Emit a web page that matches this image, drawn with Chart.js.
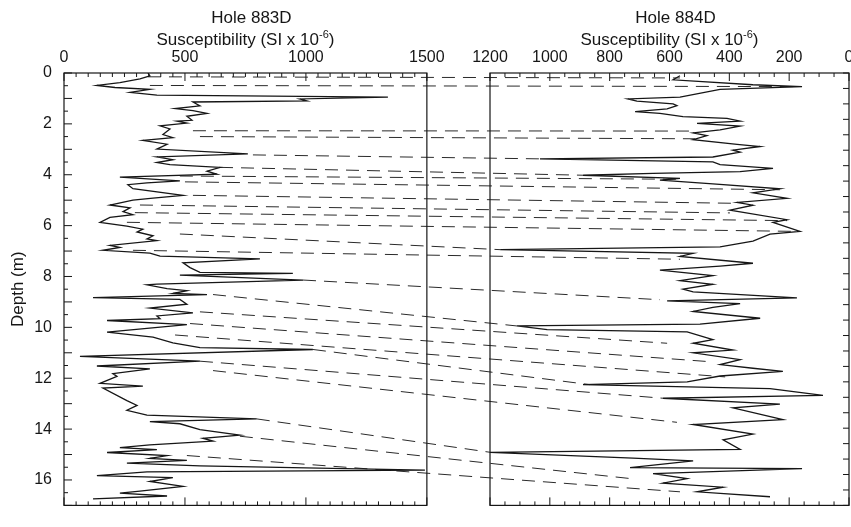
<!DOCTYPE html>
<html>
<head>
<meta charset="utf-8">
<script src="https://cdn.jsdelivr.net/npm/chart.js@4.4.1/dist/chart.umd.min.js"></script>
<style>
html, body { margin: 0; padding: 0; background: #fff; }
#wrap { width: 851px; height: 527px; position: relative; }
</style>
</head>
<body>
<div id="wrap"><canvas id="logChart"></canvas></div>
<script>
// Hole 883D: depth (m) and susceptibility (SI x 10^-6)
const depth883 = [0.00, 0.11, 0.23, 0.38, 0.49, 0.57, 0.64, 0.76, 0.87, 0.95, 1.02, 1.10, 1.14, 1.29, 1.40, 1.48, 1.59, 1.70, 1.86, 1.89, 1.97,
  2.08, 2.20, 2.42, 2.54, 2.65, 2.80, 2.99, 3.18, 3.30, 3.41, 3.52, 3.60, 3.71, 3.86, 3.98, 4.09, 4.24, 4.32, 4.39, 4.55, 4.81, 4.92, 5.00,
  5.19, 5.30, 5.45, 5.57, 5.68, 5.87, 6.02, 6.14, 6.25, 6.40, 6.52, 6.59, 6.78, 6.86, 6.97, 7.08, 7.20, 7.31, 7.46, 7.65, 7.84, 7.88, 7.95,
  8.14, 8.30, 8.33, 8.48, 8.56, 8.67, 8.71, 8.83, 8.90, 9.09, 9.24, 9.43, 9.55, 9.66, 9.73, 9.89, 10.19, 10.38, 10.61, 10.80, 10.87, 11.14,
  11.33, 11.52, 11.63, 11.82, 11.93, 12.20, 12.31, 12.39, 12.88, 13.07, 13.26, 13.45, 13.60, 13.71, 13.79, 14.02, 14.24, 14.36, 14.47, 14.62,
  14.73, 14.81, 14.92, 15.04, 15.15, 15.23, 15.34, 15.45, 15.61, 15.68, 15.83, 15.91, 16.06, 16.25, 16.44, 16.52, 16.63, 16.74];
const sus883 = [347, 355, 314, 231, 136, 211, 355, 273, 384, 1339, 975, 1004, 533, 562, 459, 533, 591, 508, 529, 467, 508,
  397, 438, 409, 450, 326, 426, 384, 760, 384, 450, 384, 438, 645, 591, 632, 231, 479, 343, 264, 285, 492, 368, 285,
  190, 273, 244, 285, 190, 149, 260, 326, 302, 368, 343, 384, 190, 231, 161, 355, 397, 810, 492, 521, 562, 946, 479,
  988, 384, 343, 426, 508, 450, 591, 120, 479, 508, 355, 533, 384, 397, 178, 508, 178, 368, 450, 562, 1029, 66,
  562, 136, 355, 202, 219, 149, 326, 161, 260, 302, 260, 343, 797, 355, 479, 562, 727, 574, 616, 355,
  231, 384, 178, 426, 355, 508, 260, 562, 1492, 343, 136, 450, 355, 492, 314, 231, 426, 120];

// Hole 884D: depth (m) and susceptibility (SI x 10^-6)
const depth884 = [0.09, 0.22, 0.38, 0.44, 0.53, 0.78, 0.84, 0.91, 1.00, 1.06, 1.16, 1.25, 1.31, 1.41, 1.47, 1.56, 1.63, 1.72, 1.84, 1.94,
  2.03, 2.16, 2.31, 2.38, 2.50, 2.56, 2.72, 2.78, 2.88, 2.97, 3.09, 3.19, 3.25, 3.31, 3.41, 3.47, 3.59, 3.75, 3.88, 4.06, 4.19, 4.28, 4.44,
  4.75, 4.84, 5.13, 5.22, 5.44, 5.63, 5.72, 5.84, 5.94, 6.16, 6.25, 6.38, 6.56, 6.72, 6.84, 7.00, 7.09, 7.28, 7.38, 7.47, 7.59, 7.72, 7.94,
  8.13, 8.19, 8.31, 8.38, 8.63, 8.75, 8.97, 9.06, 9.28, 9.44, 9.56, 9.66, 9.81, 10.00, 10.09, 10.22, 10.44, 10.53, 10.72, 10.84, 11.22,
  11.38, 11.69, 11.88, 12.19, 12.28, 12.47, 12.56, 12.78, 12.81, 12.97, 13.13, 13.28, 13.41, 13.56, 13.72];
const sus884 = [565, 588, 321, 157, 431, 565, 739, 709, 588, 575, 608, 715, 632, 555, 408, 364, 508, 364, 431, 521,
  475, 521, 374, 297, 388, 364, 455, 1033, 455, 431, 254, 364, 655, 889, 565, 632, 455, 231, 321, 207, 374, 321, 398,
  207, 254, 164, 264, 321, 431, 1166, 521, 565, 321, 431, 632, 455, 565, 455, 555, 521, 174, 608, 364, 455, 521, 297,
  498, 1110, 1009, 541, 455, 521, 388, 521, 364, 431, 321, 221, 431, 541, 889, 264, 87, 622, 231, 388, 221,
  521, 321, 421, 364, 1200, 722, 521, 732, 157, 655, 541, 622, 421, 508, 264];

// correlation ties between the two holes
const tieSus883 = [347, 355, 533, 562, 781, 645, 479, 500, 533, 314, 293, 260, 479, 285, 988, 616, 562, 521, 459, 1029, 562, 616, 797, 727, 508];
const tieDepth883 = [0.15, 0.49, 2.27, 2.50, 3.22, 3.71, 4.05, 4.28, 4.81, 5.19, 5.49, 5.87, 6.33, 6.97, 8.14, 8.71, 9.39, 9.85, 10.30, 10.87, 11.33, 11.70, 13.60, 14.28, 15.04];
const tieSus884 = [565, 180, 531, 515, 1033, 889, 565, 231, 374, 398, 207, 164, 1166, 565, 632, 1110, 608, 475, 414, 866, 622, 575, 1200, 732, 565];
const tieDepth884 = [0.16, 0.44, 1.88, 2.13, 2.78, 3.31, 3.44, 3.78, 4.22, 4.53, 4.78, 5.13, 5.72, 6.03, 7.34, 8.19, 8.75, 9.34, 9.84, 10.09, 10.53, 11.31, 12.28, 13.13, 13.56];

const ticks883 = [0, 500, 1000, 1500];
const ticks884 = [1200, 1000, 800, 600, 400, 200, 0];
const depthTicks = [0, 2, 4, 6, 8, 10, 12, 14, 16];

const ink = '#161616';
const fontFamily = "'Liberation Sans', Arial, sans-serif";

function toPoints(xs, ys) {
  return xs.map((x, i) => ({ x: x, y: ys[i] }));
}

function setTicks(values) {
  return scale => { scale.ticks = values.map(v => ({ value: v })); };
}

// top axes share one strip: no edge padding, fixed heights
function fitTop(height) {
  return scale => {
    scale.height = height;
    scale.paddingLeft = 0;
    scale.paddingRight = 0;
  };
}

function drawTitle(ctx, cx, label) {
  ctx.font = '17px ' + fontFamily;
  ctx.textAlign = 'center';
  ctx.textBaseline = 'alphabetic';
  ctx.fillText(label, cx + 6, 23);
  const main = 'Susceptibility (SI x 10';
  const sup = '-6';
  const wMain = ctx.measureText(main).width;
  const wClose = ctx.measureText(')').width;
  ctx.font = '11px ' + fontFamily;
  const wSup = ctx.measureText(sup).width;
  const start = cx - (wMain + wSup + wClose) / 2;
  ctx.textAlign = 'left';
  ctx.fillText(sup, start + wMain, 38);
  ctx.font = '17px ' + fontFamily;
  ctx.fillText(main, start, 45);
  ctx.fillText(')', start + wMain + wSup, 45);
}

const panelsPlugin = {
  id: 'panels',
  afterLayout(chart) {
    // both top axes sit on the same strip above the panels
    const a = chart.scales.x, b = chart.scales.x884;
    const top = Math.min(a.top, b.top);
    const bottom = chart.chartArea.top;
    [a, b].forEach(s => { s.top = top; s.bottom = bottom; s.height = bottom - top; });
  },
  beforeDatasetsDraw(chart) {
    const { ctx, scales } = chart;
    ctx.save();
    ctx.strokeStyle = '#2a2a2a';
    ctx.lineWidth = 1;
    ctx.setLineDash([13, 8]);
    tieSus883.forEach((v, i) => {
      ctx.beginPath();
      ctx.moveTo(scales.x.getPixelForValue(v), scales.y.getPixelForValue(tieDepth883[i]));
      ctx.lineTo(scales.x884.getPixelForValue(tieSus884[i]), scales.y884.getPixelForValue(tieDepth884[i]));
      ctx.stroke();
    });
    ctx.restore();
  },
  afterDatasetsDraw(chart) {
    const { ctx, scales } = chart;
    const sx = scales.x, sx2 = scales.x884, sy = scales.y, sy2 = scales.y884;
    const top = sy.getPixelForValue(0), bottom = sy.getPixelForValue(17);
    const l1 = sx.getPixelForValue(0), r1 = sx.getPixelForValue(1500);
    const l2 = sx2.getPixelForValue(1200), r2 = sx2.getPixelForValue(0);
    ctx.save();
    ctx.strokeStyle = ink;
    ctx.fillStyle = ink;
    ctx.lineWidth = 1.2;
    ctx.strokeRect(l1, top, r1 - l1, bottom - top);
    ctx.strokeRect(l2, top, r2 - l2, bottom - top);

    ctx.lineWidth = 1;
    ctx.beginPath();
    for (let v = 0; v <= 1500; v += 50) {
      const x = sx.getPixelForValue(v);
      const len = v % 500 === 0 ? 8 : 4;
      ctx.moveTo(x, top); ctx.lineTo(x, top + len);
      ctx.moveTo(x, bottom); ctx.lineTo(x, bottom - len);
    }
    for (let v = 0; v <= 1200; v += 50) {
      const x = sx2.getPixelForValue(v);
      const len = v % 200 === 0 ? 8 : 4;
      ctx.moveTo(x, top); ctx.lineTo(x, top + len);
      ctx.moveTo(x, bottom); ctx.lineTo(x, bottom - len);
    }
    for (let d = 0; d <= 17; d += 0.5) {
      const y = sy.getPixelForValue(d);
      ctx.moveTo(l1, y); ctx.lineTo(l1 + (d % 1 === 0 ? 8 : 4), y);
    }
    for (let d = 0; d <= 14; d += 0.5) {
      const y = sy2.getPixelForValue(d);
      ctx.moveTo(r2, y); ctx.lineTo(r2 - 6, y);
    }
    ctx.stroke();

    drawTitle(ctx, (l1 + r1) / 2, 'Hole 883D');
    drawTitle(ctx, (l2 + r2) / 2, 'Hole 884D');
    ctx.restore();
  }
};

const tickStyle = {
  color: ink,
  font: { family: fontFamily, size: 16 },
  padding: 6,
  autoSkip: false,
  maxRotation: 0,
  callback: v => String(v)
};

new Chart(document.getElementById('logChart'), {
  type: 'scatter',
  data: {
    datasets: [
      {
        label: 'Hole 883D',
        data: toPoints(sus883, depth883),
        xAxisID: 'x', yAxisID: 'y',
        showLine: true, borderColor: ink, borderWidth: 1.3, pointRadius: 0, tension: 0
      },
      {
        label: 'Hole 884D',
        data: toPoints(sus884, depth884),
        xAxisID: 'x884', yAxisID: 'y884',
        showLine: true, borderColor: ink, borderWidth: 1.3, pointRadius: 0, tension: 0
      }
    ]
  },
  options: {
    responsive: true,
    maintainAspectRatio: false,
    animation: false,
    layout: { padding: { top: 0, right: 2, bottom: 6, left: 0 } },
    plugins: { legend: { display: false }, tooltip: { enabled: false } },
    scales: {
      x: {
        type: 'linear', position: 'top', min: 0, max: 3245, weight: 1,
        grid: { display: false, drawTicks: false }, border: { display: false },
        ticks: tickStyle,
        afterBuildTicks: setTicks(ticks883),
        afterFit: fitTop(0)
      },
      x884: {
        type: 'linear', position: 'top', reverse: true, min: 0, max: 2624, weight: 0,
        grid: { display: false, drawTicks: false }, border: { display: false },
        ticks: tickStyle,
        afterBuildTicks: setTicks(ticks884),
        afterFit: fitTop(73)
      },
      y: {
        type: 'linear', position: 'left', reverse: true, min: 0, max: 17,
        grid: { display: false, drawTicks: false }, border: { display: false },
        ticks: { ...tickStyle, padding: 12 },
        afterBuildTicks: setTicks(depthTicks),
        afterFit: s => { s.width = 64; },
        title: { display: true, text: 'Depth (m)', color: ink, font: { family: fontFamily, size: 17 }, padding: { top: 8, bottom: 0 } }
      },
      y884: {
        type: 'linear', position: 'right', reverse: true, min: 0, max: 14, display: false
      }
    }
  },
  plugins: [panelsPlugin]
});
</script>
</body>
</html>
